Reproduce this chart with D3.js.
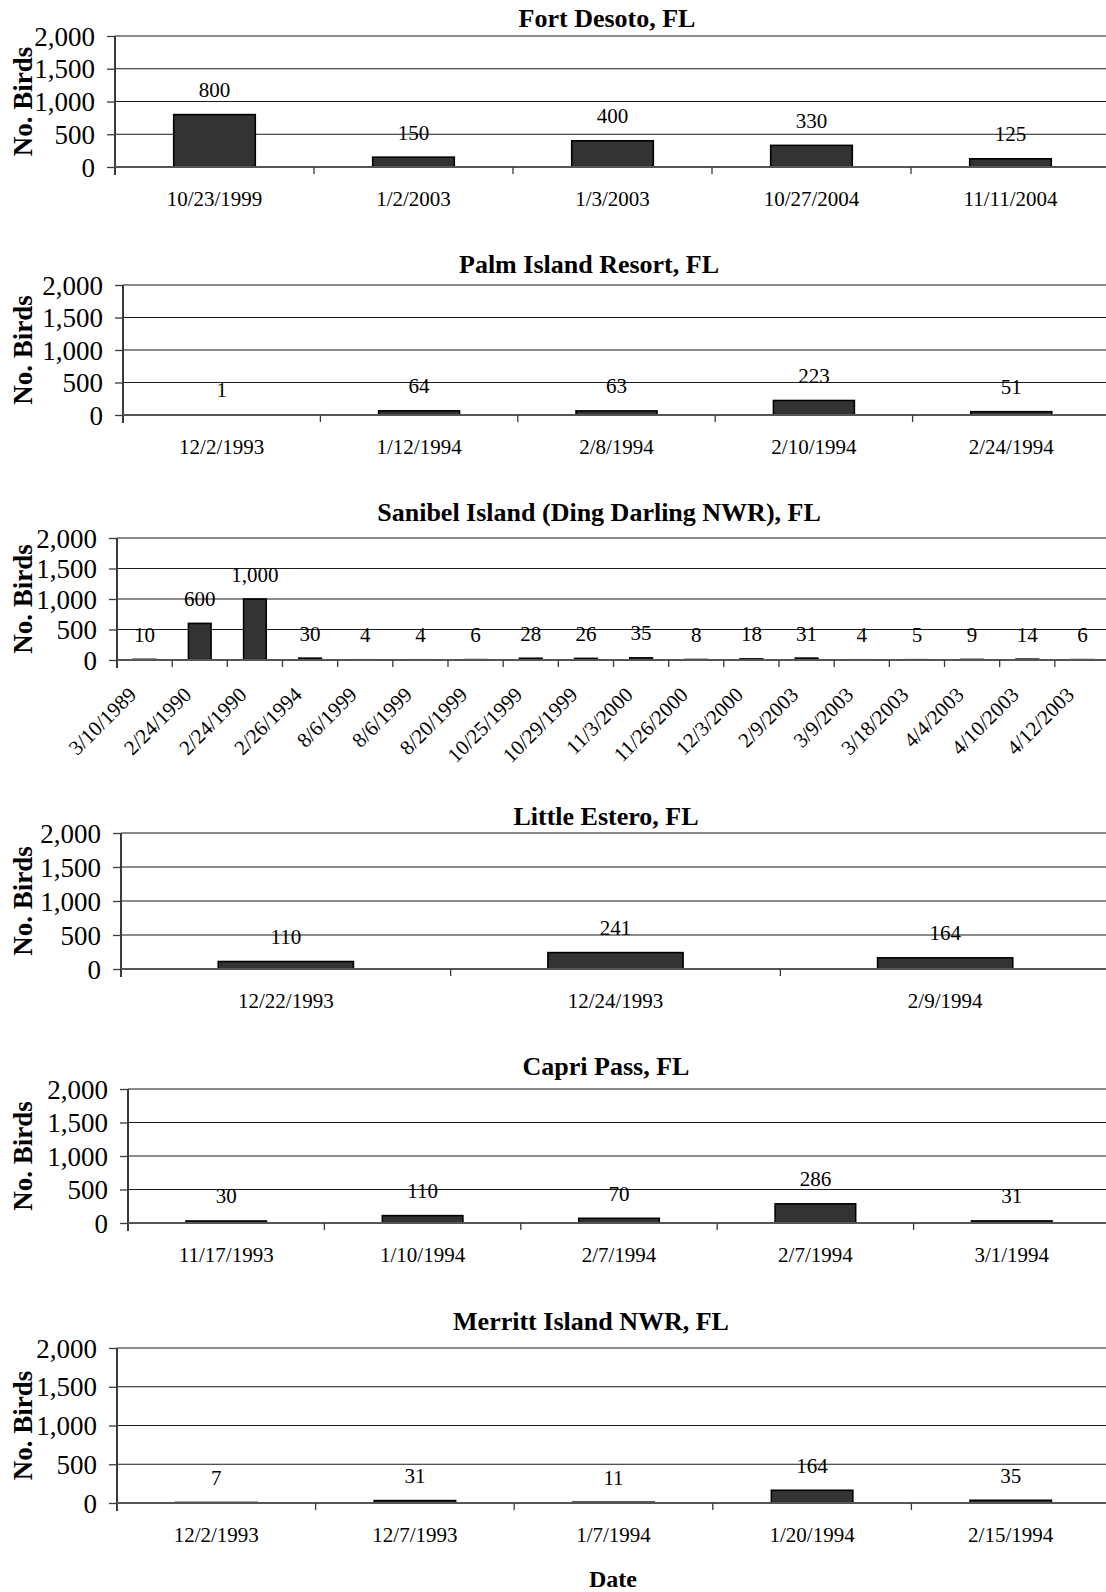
<!DOCTYPE html>
<html>
<head>
<meta charset="utf-8">
<script src="https://cdn.jsdelivr.net/npm/d3@7"></script>
<style>
  html, body { margin: 0; padding: 0; background: #fff; }
  svg { display: block; }
  text { font-family: "Times New Roman", "Liberation Serif", serif; fill: #000; }
</style>
</head>
<body>
<svg id="chart" width="1106" height="1592"></svg>
<script>
// Shorebird counts by survey date, six Florida sites
const siteTitles = [
  "Fort Desoto, FL",
  "Palm Island Resort, FL",
  "Sanibel Island (Ding Darling NWR), FL",
  "Little Estero, FL",
  "Capri Pass, FL",
  "Merritt Island NWR, FL"
];

const fortDesotoDates = ["10/23/1999", "1/2/2003", "1/3/2003", "10/27/2004", "11/11/2004"];
const fortDesotoBirds = [800, 150, 400, 330, 125];

const palmIslandDates = ["12/2/1993", "1/12/1994", "2/8/1994", "2/10/1994", "2/24/1994"];
const palmIslandBirds = [1, 64, 63, 223, 51];

const sanibelDates = ["3/10/1989", "2/24/1990", "2/24/1990", "2/26/1994", "8/6/1999", "8/6/1999",
  "8/20/1999", "10/25/1999", "10/29/1999", "11/3/2000", "11/26/2000", "12/3/2000",
  "2/9/2003", "3/9/2003", "3/18/2003", "4/4/2003", "4/10/2003", "4/12/2003"];
const sanibelBirds = [10, 600, 1000, 30, 4, 4, 6, 28, 26, 35, 8, 18, 31, 4, 5, 9, 14, 6];

const littleEsteroDates = ["12/22/1993", "12/24/1993", "2/9/1994"];
const littleEsteroBirds = [110, 241, 164];

const capriPassDates = ["11/17/1993", "1/10/1994", "2/7/1994", "2/7/1994", "3/1/1994"];
const capriPassBirds = [30, 110, 70, 286, 31];

const merrittIslandDates = ["12/2/1993", "12/7/1993", "1/7/1994", "1/20/1994", "2/15/1994"];
const merrittIslandBirds = [7, 31, 11, 164, 35];

const yTickValues = [0, 500, 1000, 1500, 2000];
const yMax = 2000;

// Panel geometry (plot area top/bottom/left, title placement)
const PLOT_RIGHT = 1110;
const panels = [
  { title: siteTitles[0], dates: fortDesotoDates, birds: fortDesotoBirds, top: 36, bottom: 167, left: 115, titleX: 607, titleY: 27 },
  { title: siteTitles[1], dates: palmIslandDates, birds: palmIslandBirds, top: 285, bottom: 415, left: 123, titleX: 589, titleY: 273 },
  { title: siteTitles[2], dates: sanibelDates, birds: sanibelBirds, top: 538, bottom: 660, left: 117, titleX: 599, titleY: 521, rotate: true },
  { title: siteTitles[3], dates: littleEsteroDates, birds: littleEsteroBirds, top: 833, bottom: 969, left: 121, titleX: 606, titleY: 825 },
  { title: siteTitles[4], dates: capriPassDates, birds: capriPassBirds, top: 1089, bottom: 1223, left: 128, titleX: 606, titleY: 1075 },
  { title: siteTitles[5], dates: merrittIslandDates, birds: merrittIslandBirds, top: 1348, bottom: 1503, left: 117, titleX: 591, titleY: 1330 }
];

const svg = d3.select("#chart");
const fmt = d3.format(",");

panels.forEach(p => drawPanel(p));

function drawPanel(p) {
  const g = svg.append("g");
  const idx = d3.range(p.dates.length);
  const x = d3.scaleBand().domain(idx).range([p.left, PLOT_RIGHT]).paddingInner(0).paddingOuter(0);
  const y = d3.scaleLinear().domain([0, yMax]).range([p.bottom, p.top]);
  const barW = x.bandwidth() * 0.41;

  // horizontal gridlines (top one doubles as plot-area border)
  g.selectAll("line.grid")
    .data(yTickValues.filter(v => v > 0))
    .join("line")
    .attr("class", "grid")
    .attr("x1", p.left).attr("x2", PLOT_RIGHT)
    .attr("y1", d => y(d)).attr("y2", d => y(d))
    .attr("stroke", d => d === yMax ? "#8a8a8a" : "#1a1a1a")
    .attr("stroke-width", d => d === yMax ? 2 : 1);

  // bars
  g.selectAll("rect.bar")
    .data(idx)
    .join("rect")
    .attr("class", "bar")
    .attr("x", i => x(i) + (x.bandwidth() - barW) / 2)
    .attr("width", barW)
    .attr("y", i => y(p.birds[i]))
    .attr("height", i => y(0) - y(p.birds[i]))
    .attr("fill", "#333333")
    .attr("stroke", "#000")
    .attr("stroke-width", 1.6);

  // value labels
  g.selectAll("text.val")
    .data(idx)
    .join("text")
    .attr("class", "val")
    .attr("x", i => x(i) + x.bandwidth() / 2)
    .attr("y", i => y(p.birds[i]) - 17.5)
    .attr("text-anchor", "middle")
    .attr("font-size", 21)
    .text(i => fmt(p.birds[i]));

  // y axis
  const yAxis = d3.axisLeft(y).tickValues(yTickValues).tickFormat(fmt).tickSize(8).tickPadding(12);
  const ya = g.append("g").attr("transform", `translate(${p.left},0)`).call(yAxis);
  ya.select(".domain").attr("stroke", "#3a3a3a").attr("stroke-width", 2).attr("d", `M0,${p.top}V${p.bottom + 8}`);
  ya.selectAll(".tick line").attr("stroke", "#3a3a3a").attr("stroke-width", 1.3);
  ya.selectAll(".tick text").attr("font-size", 27).attr("font-family", "\"Times New Roman\", \"Liberation Serif\", serif").attr("dy", "0.34em");

  // x axis line and boundary ticks
  g.append("line")
    .attr("x1", p.left).attr("x2", PLOT_RIGHT)
    .attr("y1", y(0)).attr("y2", y(0))
    .attr("stroke", "#555").attr("stroke-width", 2);
  g.selectAll("line.xtick")
    .data(d3.range(1, p.dates.length))
    .join("line")
    .attr("class", "xtick")
    .attr("x1", i => x(i)).attr("x2", i => x(i))
    .attr("y1", y(0)).attr("y2", y(0) + 7)
    .attr("stroke", "#3a3a3a").attr("stroke-width", 1.3);

  // category labels
  const cat = g.selectAll("text.cat")
    .data(idx)
    .join("text")
    .attr("class", "cat")
    .attr("font-size", 21)
    .text(i => p.dates[i]);
  if (p.rotate) {
    cat.attr("text-anchor", "end")
      .attr("transform", i => `translate(${x(i) + x.bandwidth() / 2 - 7},${y(0) + 36}) rotate(-45)`);
  } else {
    cat.attr("text-anchor", "middle")
      .attr("x", i => x(i) + x.bandwidth() / 2)
      .attr("y", y(0) + 39);
  }

  // y axis title
  g.append("text")
    .attr("transform", `translate(${32},${(p.top + p.bottom) / 2}) rotate(-90)`)
    .attr("text-anchor", "middle")
    .attr("font-size", 27)
    .attr("font-weight", "bold")
    .text("No. Birds");

  // panel title
  g.append("text")
    .attr("x", p.titleX)
    .attr("y", p.titleY)
    .attr("text-anchor", "middle")
    .attr("font-size", 26)
    .attr("font-weight", "bold")
    .text(p.title);
}

// shared x axis title
svg.append("text")
  .attr("x", 613)
  .attr("y", 1587)
  .attr("text-anchor", "middle")
  .attr("font-size", 24)
  .attr("font-weight", "bold")
  .text("Date");
</script>
</body>
</html>
